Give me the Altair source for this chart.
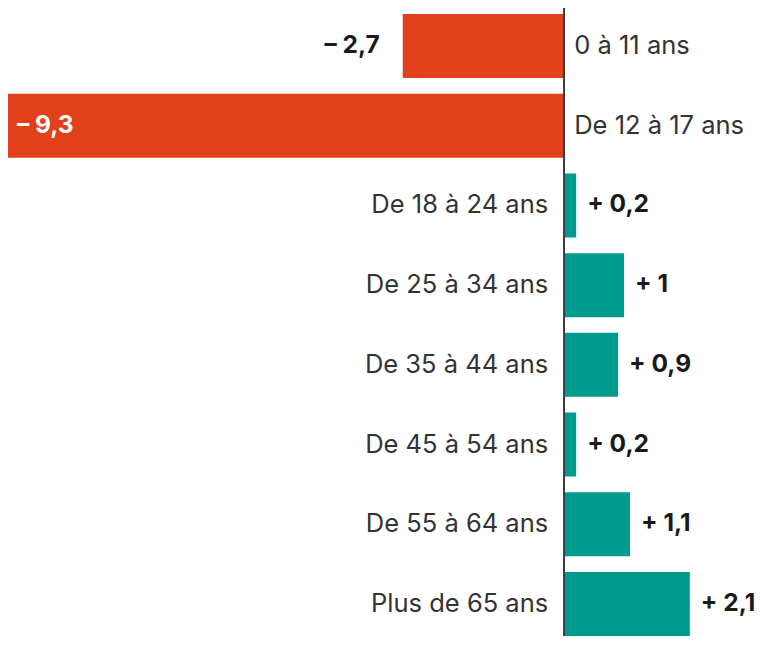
import altair as alt
import pandas as pd

categories = ["0 à 11 ans", "De 12 à 17 ans", "De 18 à 24 ans", "De 25 à 34 ans",
              "De 35 à 44 ans", "De 45 à 54 ans", "De 55 à 64 ans", "Plus de 65 ans"]
values = [-2.7, -9.3, 0.2, 1.0, 0.9, 0.2, 1.1, 2.1]
value_labels = ["– 2,7", "– 9,3", "+ 0,2", "+ 1", "+ 0,9", "+ 0,2", "+ 1,1", "+ 2,1"]

df = pd.DataFrame({"cat": categories, "value": values, "label": value_labels})

W, H = 750, 628
FONT = "Inter"

xscale = alt.Scale(domain=[-9.3, 3.24], nice=False)
x = alt.X("value:Q", scale=xscale, axis=None)
x0 = alt.X("zero:Q", scale=xscale, axis=None)
y = alt.Y("cat:N", sort=categories, axis=None,
          scale=alt.Scale(range=[0, 634], paddingInner=0.197, paddingOuter=0.075))

base = alt.Chart(df).transform_calculate(zero="0")

bars = base.mark_bar().encode(
    x=x, y=y,
    color=alt.condition("datum.value < 0", alt.value("#E2401A"), alt.value("#009B8F")),
)

zero = base.mark_rule(color="#3a3a3a", strokeWidth=1).encode(
    x=x0, y=alt.value(0), y2=alt.value(H)
)

cat_neg = base.transform_filter("datum.value < 0").mark_text(
    align="left", baseline="middle", dx=10, font=FONT, fontSize=25.5, color="#333333"
).encode(x=x0, y=y, text="cat:N")

cat_pos = base.transform_filter("datum.value > 0").mark_text(
    align="right", baseline="middle", dx=-16, font=FONT, fontSize=25.5, color="#333333"
).encode(x=x0, y=y, text="cat:N")

val_pos = base.transform_filter("datum.value > 0").mark_text(
    align="left", baseline="middle", dx=11, font=FONT, fontSize=24.5, fontWeight=700, color="#1a1a1a"
).encode(x=x, y=y, text="label:N")

val_neg_out = base.transform_filter("datum.value < 0 && datum.value > -5").mark_text(
    align="right", baseline="middle", dx=-23, font=FONT, fontSize=24.5, fontWeight=700, color="#1a1a1a"
).encode(x=x, y=y, text="label:N")

val_neg_in = base.transform_filter("datum.value <= -5").mark_text(
    align="left", baseline="middle", dx=9, font=FONT, fontSize=24.5, fontWeight=700, color="white"
).encode(x=x, y=y, text="label:N")

chart = alt.layer(bars, zero, cat_neg, cat_pos, val_pos, val_neg_out, val_neg_in).properties(
    width=W, height=H, padding=0, autosize=alt.AutoSizeParams(type="none"), background="white"
).configure_view(stroke=None)

chart.save("out.html", embed_options={"renderer": "svg", "actions": False})
